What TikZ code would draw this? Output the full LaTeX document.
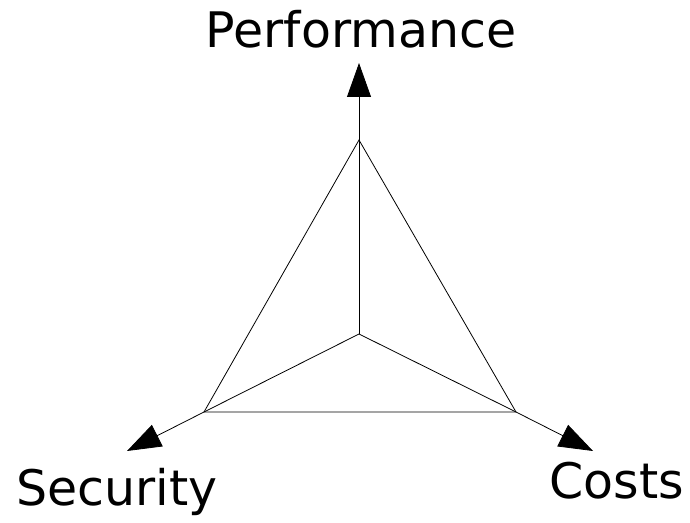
\documentclass[tikz,border=0pt]{standalone}
\usepackage{fontspec}
\setmainfont{DejaVu Sans}
\usetikzlibrary{arrows.meta}
\begin{document}
\begin{tikzpicture}[x=1pt,y=1pt,
  edge/.style={line width=0.8pt,black},
  axis/.style={line width=0.8pt,black,-{Triangle[length=34pt,width=24pt]}},
  lbl/.style={anchor=base,inner sep=0pt,font=\fontsize{49}{59}\selectfont}]
\useasboundingbox (0,0) rectangle (690,522);
\coordinate (c) at (359,188);
\coordinate (t) at (359,382);
\coordinate (l) at (204,110);
\coordinate (r) at (516,110);
\coordinate (tt) at (359,459);
\coordinate (lt) at (127,71);
\coordinate (rt) at (593,71);
\draw[edge] (t) -- (l) -- (r) -- cycle;
\draw[edge] (c) -- (l);
\draw[edge] (c) -- (r);
\draw[axis] (c) -- (tt);
\draw[axis] (l) -- (lt);
\draw[axis] (r) -- (rt);
\node[lbl] (perf) at (361,474) {Performance};
\node[lbl] (sec) at (117,17) {Security};
\node[lbl] (cost) at (617,24) {Costs};
\end{tikzpicture}
\end{document}
